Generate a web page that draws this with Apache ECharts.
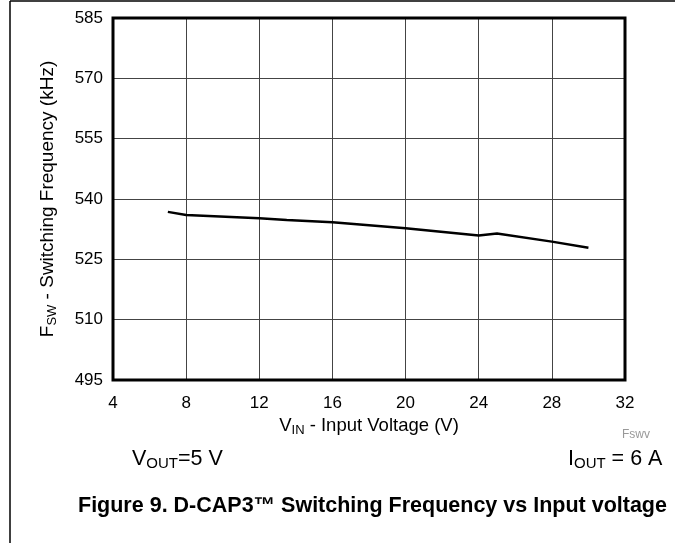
<!DOCTYPE html>
<html>
<head>
<meta charset="utf-8">
<script src="https://cdn.jsdelivr.net/npm/echarts@6/dist/echarts.min.js"></script>
<style>
  html, body { margin: 0; padding: 0; background: #fff; }
  #chart { width: 675px; height: 543px; }
</style>
</head>
<body>
<div id="chart"></div>
<script>
// input voltage (V) vs switching frequency (kHz)
const vin = [7, 8, 12, 13.5, 16, 20, 24, 25, 28, 30]
const fsw = [536.8, 536.0, 535.2, 534.8, 534.2, 532.7, 530.9, 531.4, 529.4, 527.9]
const xTicks = { min: 4, max: 32, step: 4 }
const yTicks = { min: 495, max: 585, step: 15 }

const chart = echarts.init(document.getElementById('chart'))
const font = 'Liberation Sans, Arial, sans-serif'

const option = {
  animation: false,
  textStyle: { fontFamily: font },
  grid: { left: 113, right: 50, top: 18, bottom: 163 },
  xAxis: {
    type: 'value',
    min: xTicks.min,
    max: xTicks.max,
    interval: xTicks.step,
    name: '{n|V}{s|IN}{n| - Input Voltage (V)}',
    nameLocation: 'middle',
    nameGap: 33,
    nameTextStyle: {
      rich: {
        n: { fontSize: 18.5, color: '#000', fontFamily: font },
        s: { fontSize: 13, color: '#000', fontFamily: font, padding: [9, 0, 0, 0] }
      }
    },
    axisLine: { show: false },
    axisTick: { show: false },
    axisLabel: { color: '#000', fontSize: 17, margin: 15 },
    splitLine: { show: true, lineStyle: { color: '#444', width: 1 } }
  },
  yAxis: {
    type: 'value',
    min: yTicks.min,
    max: yTicks.max,
    interval: yTicks.step,
    name: '{n|F}{s|SW}{n| - Switching Frequency (kHz)}',
    nameLocation: 'middle',
    nameGap: 54,
    nameTextStyle: {
      rich: {
        n: { fontSize: 19, color: '#000', fontFamily: font },
        s: { fontSize: 13, color: '#000', fontFamily: font, padding: [9, 0, 0, 0] }
      }
    },
    axisLine: { show: false },
    axisTick: { show: false },
    axisLabel: { color: '#000', fontSize: 17, margin: 10 },
    splitLine: { show: true, lineStyle: { color: '#444', width: 1 } }
  },
  series: [{
    type: 'line',
    data: vin.map((v, i) => [v, fsw[i]]),
    symbol: 'none',
    lineStyle: { color: '#000', width: 2.5 }
  }],
  graphic: [
    // plot frame
    {
      type: 'rect',
      shape: { x: 113, y: 18, width: 512, height: 362 },
      style: { fill: 'none', stroke: '#000', lineWidth: 3 },
      z: 10
    },
    // page frame (left & top)
    { type: 'line', shape: { x1: 10, y1: 1, x2: 675, y2: 1 }, style: { stroke: '#000', lineWidth: 1.5 } },
    { type: 'line', shape: { x1: 10, y1: 1, x2: 10, y2: 543 }, style: { stroke: '#000', lineWidth: 1.5 } },
    {
      type: 'text', left: 622, top: 429,
      style: { text: 'Fswv', fontSize: 12, fill: '#999', fontFamily: font }
    },
    {
      type: 'text', left: 132, top: 448,
      style: {
        text: '{n|V}{s|OUT}{n|=5 V}',
        rich: {
          n: { fontSize: 21.5, fill: '#000', fontFamily: font },
          s: { fontSize: 15, fill: '#000', fontFamily: font, padding: [10, 0, 0, 0] }
        }
      }
    },
    {
      type: 'text', left: 568, top: 448,
      style: {
        text: '{n|I}{s|OUT}{n| = 6 A}',
        rich: {
          n: { fontSize: 21.5, fill: '#000', fontFamily: font },
          s: { fontSize: 15, fill: '#000', fontFamily: font, padding: [10, 0, 0, 0] }
        }
      }
    },
    {
      type: 'text', left: 78, top: 495,
      style: {
        text: 'Figure 9. D-CAP3™ Switching Frequency vs Input voltage',
        fontSize: 21.5, fontWeight: 'bold', fill: '#000', fontFamily: font
      }
    }
  ]
}

chart.setOption(option)
</script>
</body>
</html>
